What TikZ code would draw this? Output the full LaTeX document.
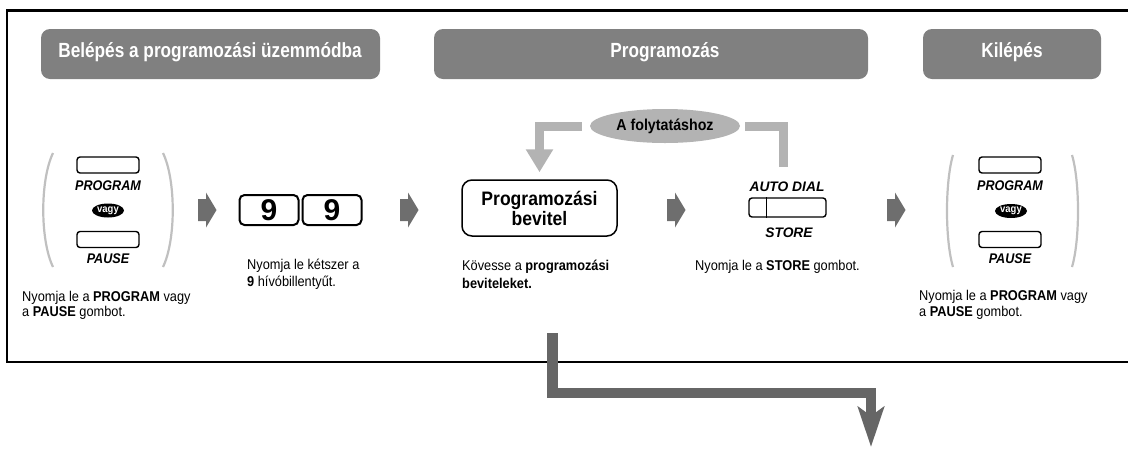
\documentclass[tikz,border=0pt]{standalone}
\usepackage{fontspec}
\setmainfont{Liberation Sans}[FakeStretch=0.9]
\newfontfamily\hfont{Liberation Sans}[FakeStretch=0.84]
\newfontfamily\wfont{Liberation Sans}
\usetikzlibrary{arrows.meta,shapes.geometric}
\definecolor{hdrgray}{HTML}{808080}
\definecolor{lightbar}{HTML}{B3B3B3}
\definecolor{parengray}{HTML}{C0C0C0}
\definecolor{darkarrow}{HTML}{6E6E6E}
\definecolor{bigarrow}{HTML}{666666}
\tikzset{
  hdrbox/.style={fill=hdrgray, rounded corners=9pt, minimum height=50pt, inner sep=0pt},
  hdrtext/.style={anchor=base, inner sep=0pt, text=white, font=\hfont\bfseries\fontsize{20.5}{24}\selectfont},
  body/.style={anchor=base west, align=left, inner sep=0pt, font=\fontsize{14.2}{15.5}\selectfont},
  bodywide/.style={body, font=\fontsize{14.2}{17.5}\selectfont},
  key/.style={draw, line width=1.4pt, rounded corners=3pt, minimum width=62pt, minimum height=16pt, inner sep=0pt},
  keylab/.style={anchor=base, inner sep=0pt, font=\bfseries\itshape\fontsize{14}{15}\selectfont},
  keylabw/.style={anchor=base, inner sep=0pt, font=\wfont\bfseries\itshape\fontsize{13.8}{15}\selectfont},
  vagy/.style={ellipse, fill=black, text=white, minimum width=32pt, minimum height=14pt, inner sep=0pt, font=\bfseries\fontsize{10.5}{11}\selectfont},
  key99/.style={draw, line width=2pt, rounded corners=5pt, minimum width=59pt, minimum height=30pt, inner sep=0pt, font=\wfont\bfseries\fontsize{30}{31}\selectfont},
  parenline/.style={draw=parengray, line width=2.2pt},
  barline/.style={draw=lightbar, line width=9pt},
  fwdarrow/.pic={\fill[darkarrow] (0,-11) -- (8,-11) -- (8,-17.5) -- (18.5,0) -- (8,17.5) -- (8,11) -- (0,11) -- cycle;}
}
\begin{document}
\begin{tikzpicture}[x=1pt,y=-1pt]
\useasboundingbox (0,0) rectangle (1128,448);
% frame
\draw[line width=2.5pt] (1128,10.5) -- (7,10.5) -- (7,362) -- (1128,362);
% headers
\node[hdrbox, minimum width=339pt] (h1) at (210.5,54) {};
\node[hdrtext] (h1t) at (210,57.5) {Belépés a programozási üzemmódba};
\node[hdrbox, minimum width=434pt] (h2) at (651,54) {};
\node[hdrtext] (h2t) at (665,57.5) {Programozás};
\node[hdrbox, minimum width=178pt] (h3) at (1012,54) {};
\node[hdrtext] (h3t) at (1012,57.5) {Kilépés};
% left group
\draw[parenline] (53,153) .. controls (40,180) and (40,240) .. (53,267);
\draw[parenline] (163,153) .. controls (176,180) and (176,240) .. (163,267);
\node[key] (k1) at (108,165) {};
\node[keylab] (k1l) at (108,190) {PROGRAM};
\node[vagy] (v1) at (108,210.5) {vagy};
\node[key] (k2) at (108,239.5) {};
\node[keylab] (k2l) at (108,263) {PAUSE};
\node[body] (t1) at (22,316.5) {Nyomja le a \textbf{PROGRAM} vagy\\a \textbf{PAUSE} gombot.};
% arrows between steps
\pic at (198,210) {fwdarrow};
\pic at (400,210) {fwdarrow};
\pic at (667,210) {fwdarrow};
\pic at (887,210) {fwdarrow};
% 9 9
\node[key99] (n1) at (269,210) {9};
\node[key99] (n2) at (332,210) {9};
\node[bodywide] (t2) at (247,286.5) {Nyomja le kétszer a\\\textbf{9} hívóbillentyűt.};
% programming entry
\node[draw, line width=1.5pt, rounded corners=10pt, minimum width=155pt, minimum height=56pt, align=center, inner sep=0pt, font=\bfseries\fontsize{19.5}{20}\selectfont] (prog) at (539.5,208) {Programozási\\bevitel};
\node[bodywide] (t3) at (462,288) {Kövesse a \textbf{programozási}\\\textbf{beviteleket.}};
% continue loop
\node[ellipse, fill=lightbar, minimum width=150pt, minimum height=34pt, inner sep=0pt, font=\bfseries\fontsize{15.8}{17}\selectfont] (cont) at (665,126) {A folytatáshoz};
\coordinate (rb) at (783.5,167);
\draw[barline, -{Triangle[width=26pt,length=23pt]}] ([xshift=-8pt]cont.west) -| ([yshift=7pt]prog.north);
\draw[barline] ([xshift=5pt]cont.east) -| (rb);
% store key
\node[keylabw] (adl) at (787,191) {AUTO DIAL};
\node[key, minimum width=77pt, minimum height=19pt] (sk) at (787.5,207.5) {};
\draw[line width=1.4pt] ([xshift=18pt]sk.north west) -- ([xshift=18pt]sk.south west);
\node[keylabw] (stl) at (789,237) {STORE};
\node[body] (t4) at (695,270) {Nyomja le a \textbf{STORE} gombot.};
% right group
\draw[parenline] (953,155) .. controls (945,182) and (945,240) .. (953,267);
\draw[parenline] (1072,155) .. controls (1080,182) and (1080,240) .. (1072,267);
\node[key] (k3) at (1010,165) {};
\node[keylab] (k3l) at (1010,190) {PROGRAM};
\node[vagy] (v2) at (1011,211) {vagy};
\node[key] (k4) at (1010,239.5) {};
\node[keylab] (k4l) at (1010,263) {PAUSE};
\node[body] (t5) at (919,316) {Nyomja le a \textbf{PROGRAM} vagy\\a \textbf{PAUSE} gombot.};
% big exit arrow
\coordinate (bs) at (552.5,333);
\coordinate (bm) at (871,393);
\coordinate (be) at (871,447);
\draw[bigarrow, line width=10.5pt, -{Stealth[width=26pt,length=40pt,inset=9pt]}] (bs) |- (bm) -- (be);
\end{tikzpicture}
\end{document}
